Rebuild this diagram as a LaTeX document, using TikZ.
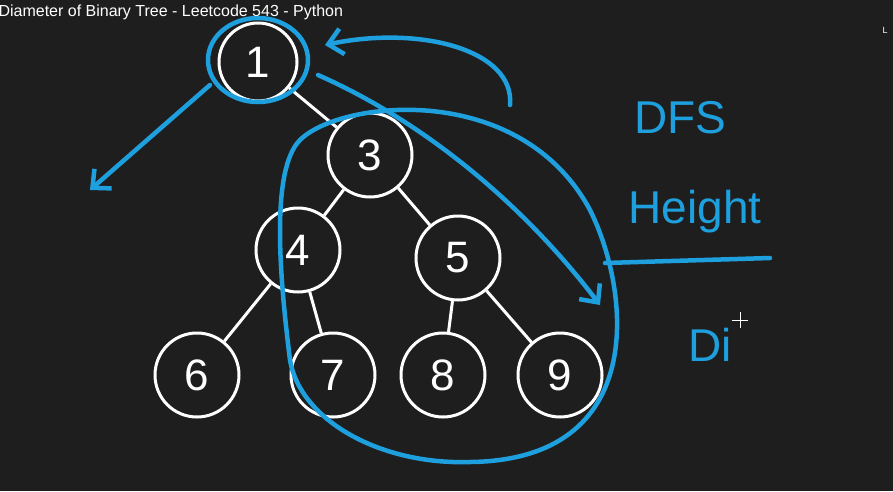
\documentclass[tikz,border=0pt]{standalone}
\usepackage{fontspec}
\setmainfont{Liberation Sans}
\usetikzlibrary{arrows.meta}
\definecolor{bg}{RGB}{30,30,30}
\definecolor{hb}{RGB}{30,160,222}
\begin{document}
\begin{tikzpicture}[x=1pt,y=-1pt,
  tn/.style={circle,draw=white,line width=3pt,minimum size=78pt,inner sep=0pt,text=white,font=\fontsize{44}{44}\selectfont},
  te/.style={white,line width=3pt},
  bl/.style={hb,line width=4.5pt,line cap=round,line join=round},
  ht/.style={hb,font=\fontsize{46}{46}\selectfont}]
\fill[bg] (0,0) rectangle (893,491);
\useasboundingbox (0,0) rectangle (893,491);
\node[anchor=west,text=white,font=\fontsize{16}{16}\selectfont] (title) at (-5,12) {Diameter of Binary Tree - Leetcode 543 - Python};
\node[text=white,font=\fontsize{9}{9}\selectfont] (lmark) at (885,30) {L};
\node[tn] (n1) at (258,62) {1};
\node[tn,minimum size=84pt] (n3) at (370,155) {3};
\node[tn,minimum size=84pt] (n4) at (298,250) {4};
\node[tn,minimum size=84pt] (n5) at (458,258) {5};
\node[tn,minimum size=84pt] (n6) at (197,375) {6};
\node[tn,minimum size=84pt] (n7) at (333,375) {7};
\node[tn,minimum size=84pt] (n8) at (443,375) {8};
\node[tn,minimum size=84pt] (n9) at (560,375) {9};
\draw[te] (n1) -- (n3); \draw[te] (n3) -- (n4); \draw[te] (n3) -- (n5);
\draw[te] (n4) -- (n6); \draw[te] (n4) -- (n7); \draw[te] (n5) -- (n8); \draw[te] (n5) -- (n9);
% blue annotations
\draw[bl] (258,60) circle [x radius=50, y radius=42];
\coordinate (a1e) at (90,190);
\draw[bl,-{Straight Barb[length=14pt,width=26pt]}] (210,85) -- (a1e);
\coordinate (c1s) at (510,105);
\coordinate (c1e) at (325,45);
\draw[bl,-{Straight Barb[length=14pt,width=26pt]}] (c1s) .. controls (515,50) and (420,25) .. (c1e);
\draw[bl] (300,140) .. controls (340,100) and (520,80) .. (590,210)
  .. controls (630,290) and (650,460) .. (470,462)
  .. controls (380,465) and (300,420) .. (290,360)
  .. controls (280,280) and (270,170) .. (300,140);
\coordinate (a2s) at (318,75);
\coordinate (a2e) at (600,305);
\draw[bl,-{Straight Barb[length=14pt,width=26pt]}] (a2s) .. controls (420,120) and (520,200) .. (a2e);
\node[ht] (dfs) at (680,118) {DFS};
\node[ht] (hgt) at (695,212) {Height};
\coordinate (u1) at (605,263); \coordinate (u2) at (770,258);
\draw[bl] (u1) -- (u2);
\node[ht] (di) at (710,345) {Di};
\draw[white,line width=1pt] (732,320) -- (748,320) (740,312) -- (740,328);
\end{tikzpicture}
\end{document}
